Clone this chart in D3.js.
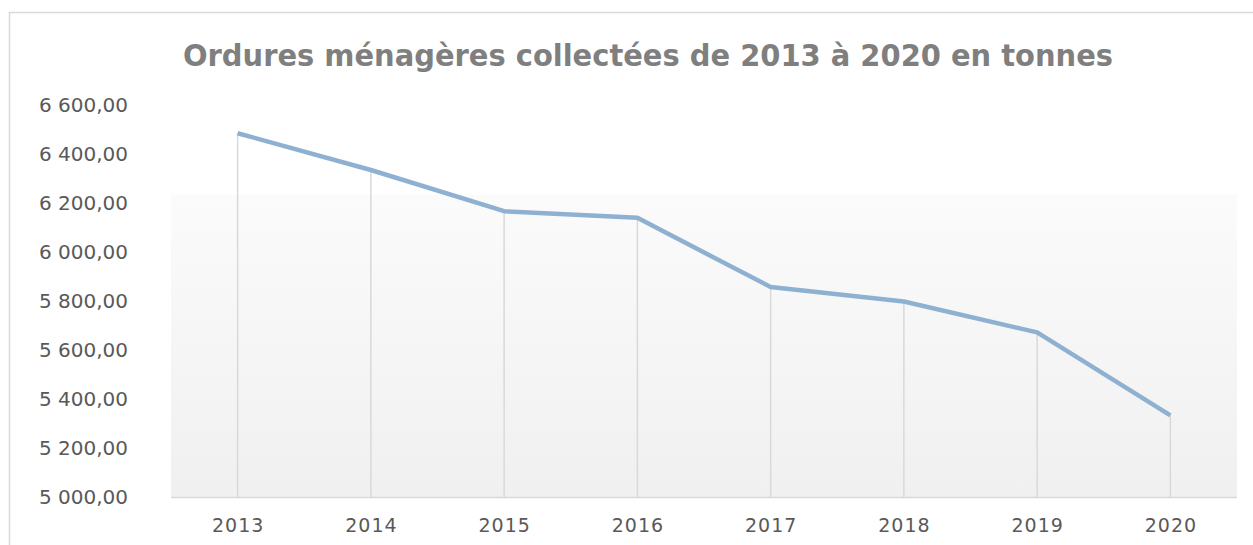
<!DOCTYPE html>
<html>
<head>
<meta charset="utf-8">
<script src="https://cdn.jsdelivr.net/npm/d3@7"></script>
<style>
  body { margin: 0; background: #fff; }
  svg { display: block; }
</style>
</head>
<body>
<svg id="chart" width="1253" height="545"></svg>
<script>
// data
var years = ["2013", "2014", "2015", "2016", "2017", "2018", "2019", "2020"];
var tonnes = [6485, 6335, 6167, 6140, 5858, 5799, 5673, 5335];
var yTicks = [5000, 5200, 5400, 5600, 5800, 6000, 6200, 6400, 6600];
var title = "Ordures ménagères collectées de 2013 à 2020 en tonnes";

var color = {"line": "#8fb1d1", "drop": "#d9d9d9", "text": "#595959", "title": "#7f7f7f", "border": "#d9d9d9"};

var svg = d3.select("#chart");
// note: "top" is taken by window.top, so plot edges get their own names
var plotLeft = 171, plotRight = 1237, plotTop = 105, plotBottom = 497.5;

var fr = d3.formatLocale({decimal: ",", thousands: "\u00a0", grouping: [3], currency: ["", ""]});
var fmt = fr.format(",.2f");

var x = d3.scalePoint().domain(years).range([plotLeft, plotRight]).padding(0.5);
var y = d3.scaleLinear().domain([5000, 6600]).range([plotBottom, plotTop]);

// chart frame (runs off the right and bottom edges)
svg.append("rect")
  .attr("x", 9.5).attr("y", 12.5)
  .attr("width", 1300).attr("height", 600)
  .attr("fill", "#fff")
  .attr("stroke", color.border)
  .attr("stroke-width", 1.5);

// plot area gradient
var defs = svg.append("defs");
var grad = defs.append("linearGradient")
  .attr("id", "plotbg").attr("x1", 0).attr("y1", 0).attr("x2", 0).attr("y2", 1);
grad.append("stop").attr("offset", "0%").attr("stop-color", "#fbfbfb");
grad.append("stop").attr("offset", "100%").attr("stop-color", "#f0f0f0");

var bgTop = 195;
svg.append("rect")
  .attr("x", plotLeft).attr("y", bgTop)
  .attr("width", plotRight - plotLeft).attr("height", plotBottom - bgTop)
  .attr("fill", "url(#plotbg)");

// title
svg.append("text")
  .attr("x", 648).attr("y", 66)
  .attr("text-anchor", "middle")
  .attr("textLength", 930)
  .attr("lengthAdjust", "spacingAndGlyphs")
  .style("font-family", "'DejaVu Sans', sans-serif")
  .style("font-weight", "bold")
  .style("font-size", "31px")
  .style("fill", color.title)
  .text(title);

// y axis labels
var yAxis = svg.append("g")
  .attr("transform", "translate(" + plotLeft + ",0)")
  .call(d3.axisLeft(y).tickValues(yTicks).tickSize(0).tickPadding(43).tickFormat(fmt));
yAxis.select(".domain").remove();
yAxis.selectAll("text")
  .style("font-family", "'DejaVu Sans', sans-serif")
  .style("font-size", "20px")
  .style("fill", color.text);

// drop lines
svg.append("g").selectAll("line")
  .data(years)
  .enter()
  .append("line")
  .attr("x1", function(d) { return x(d); })
  .attr("x2", function(d) { return x(d); })
  .attr("y1", function(d, i) { return y(tonnes[i]); })
  .attr("y2", y(5000))
  .style("stroke", color.drop)
  .style("stroke-width", 1.5);

// x axis
var xAxis = svg.append("g")
  .attr("transform", "translate(0," + plotBottom + ")")
  .call(d3.axisBottom(x).tickSize(0).tickPadding(21));
xAxis.select(".domain")
  .attr("d", "M" + plotLeft + ",0H" + plotRight)
  .style("stroke", color.drop)
  .style("stroke-width", 1.5);
xAxis.selectAll("text")
  .style("font-family", "'DejaVu Sans', sans-serif")
  .style("font-size", "19px")
  .style("letter-spacing", "1px")
  .style("fill", color.text);

// the series line
var line = d3.line()
  .x(function(d, i) { return x(years[i]); })
  .y(function(d) { return y(d); });

svg.append("path")
  .datum(tonnes)
  .attr("d", line)
  .style("fill", "none")
  .style("stroke", color.line)
  .style("stroke-width", 4.5)
  .style("stroke-linejoin", "round");
</script>
</body>
</html>
